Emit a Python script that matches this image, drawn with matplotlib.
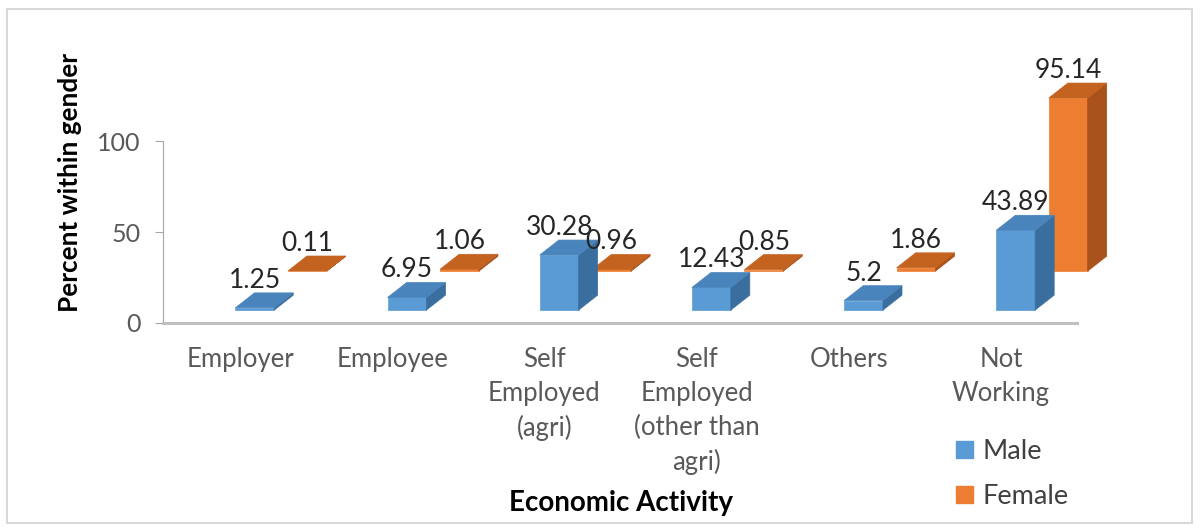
import matplotlib.pyplot as plt
from matplotlib.patches import Polygon, Patch, Rectangle

plt.rcParams['font.family'] = ['Lato', 'DejaVu Sans']

categories = ['Employer', 'Employee', 'Self\nEmployed\n(agri)',
              'Self\nEmployed\n(other than\nagri)', 'Others', 'Not\nWorking']
male = [1.25, 6.95, 30.28, 12.43, 5.2, 43.89]
female = [0.11, 1.06, 0.96, 0.85, 1.86, 95.14]
series_names = ['Male', 'Female']

# face colours: front, side, top
male_cols = ('#5B9BD5', '#3A6E9E', '#4A84BC')
female_cols = ('#ED7D31', '#A9521B', '#C4621F')

W, H = 1200, 529
fig = plt.figure(figsize=(W / 100, H / 100), dpi=100)

# axes placed so that 0 sits on pixel row 323 and category spacing ~152 px
ax = fig.add_axes([163 / W, (H - 323) / H, (1077 - 163) / W, (323 - 30) / H])
ax.set_xlim(-0.506, 5.5)
ax.set_ylim(0, 161)

# pseudo 3d geometry (category units / value units)
bar_w = 0.255
dep_x, dep_y = 0.125, 8.2
male_shift, male_base = -0.03, 7.1
fem_shift, fem_base = 0.315, 28.5


def bar3d(x0, base, v, cols):
    x1 = x0 + bar_w
    top = base + v
    front = [(x0, base), (x1, base), (x1, top), (x0, top)]
    side = [(x1, base), (x1 + dep_x, base + dep_y), (x1 + dep_x, top + dep_y), (x1, top)]
    lid = [(x0, top), (x1, top), (x1 + dep_x, top + dep_y), (x0 + dep_x, top + dep_y)]
    for pts, c in zip((front, side, lid), cols):
        ax.add_patch(Polygon(pts, closed=True, facecolor=c, edgecolor=c,
                             linewidth=0.5, clip_on=False))


def label(x0, base, v):
    ax.text(x0 + bar_w / 2, base + v + dep_y + 2.8, f'{v:g}', ha='center',
            va='baseline', fontsize=19, color='#262626', clip_on=False)


for i in range(len(categories)):
    bar3d(i + fem_shift, fem_base, female[i], female_cols)
for i in range(len(categories)):
    bar3d(i + male_shift, male_base, male[i], male_cols)
for i in range(len(categories)):
    label(i + fem_shift, fem_base, female[i])
    label(i + male_shift, male_base, male[i])

for s in ['top', 'right']:
    ax.spines[s].set_visible(False)
ax.spines['left'].set_bounds(0, 100)
ax.spines['left'].set_color('#A6A6A6')
ax.spines['bottom'].set_color('#BFBFBF')
ax.spines['bottom'].set_linewidth(2.2)
ax.set_yticks([0, 50, 100])
ax.tick_params(axis='y', length=6, color='#A6A6A6', labelcolor='#595959',
               labelsize=18, pad=10)
ax.set_xticks(range(len(categories)))
ax.set_xticklabels(categories, linespacing=1.45)
ax.tick_params(axis='x', length=0, labelcolor='#595959', labelsize=18.5, pad=17)

fig.text(70 / W, 1 - 183 / H, 'Percent within gender', rotation=90, ha='center',
         va='center', fontsize=18.8, fontweight='bold', color='#000000')
fig.text(621 / W, 1 - 503 / H, 'Economic Activity', ha='center', va='center',
         fontsize=20, fontweight='bold', color='#000000')

handles = [Patch(color=male_cols[0]), Patch(color=female_cols[0])]
fig.legend(handles, series_names, loc='upper left',
           bbox_to_anchor=(932 / W, 1 - 415 / H), frameon=False,
           fontsize=19.5, handlelength=0.6, handleheight=0.6,
           handletextpad=0.35, labelspacing=0.72, labelcolor='#404040')

fig.add_artist(Rectangle((7 / W, 1 - 523 / H), (1192 - 7) / W, (523 - 9) / H,
                         transform=fig.transFigure, fill=False,
                         edgecolor='#D9D9D9', linewidth=1.5))

fig.savefig('out.png', dpi=100)
